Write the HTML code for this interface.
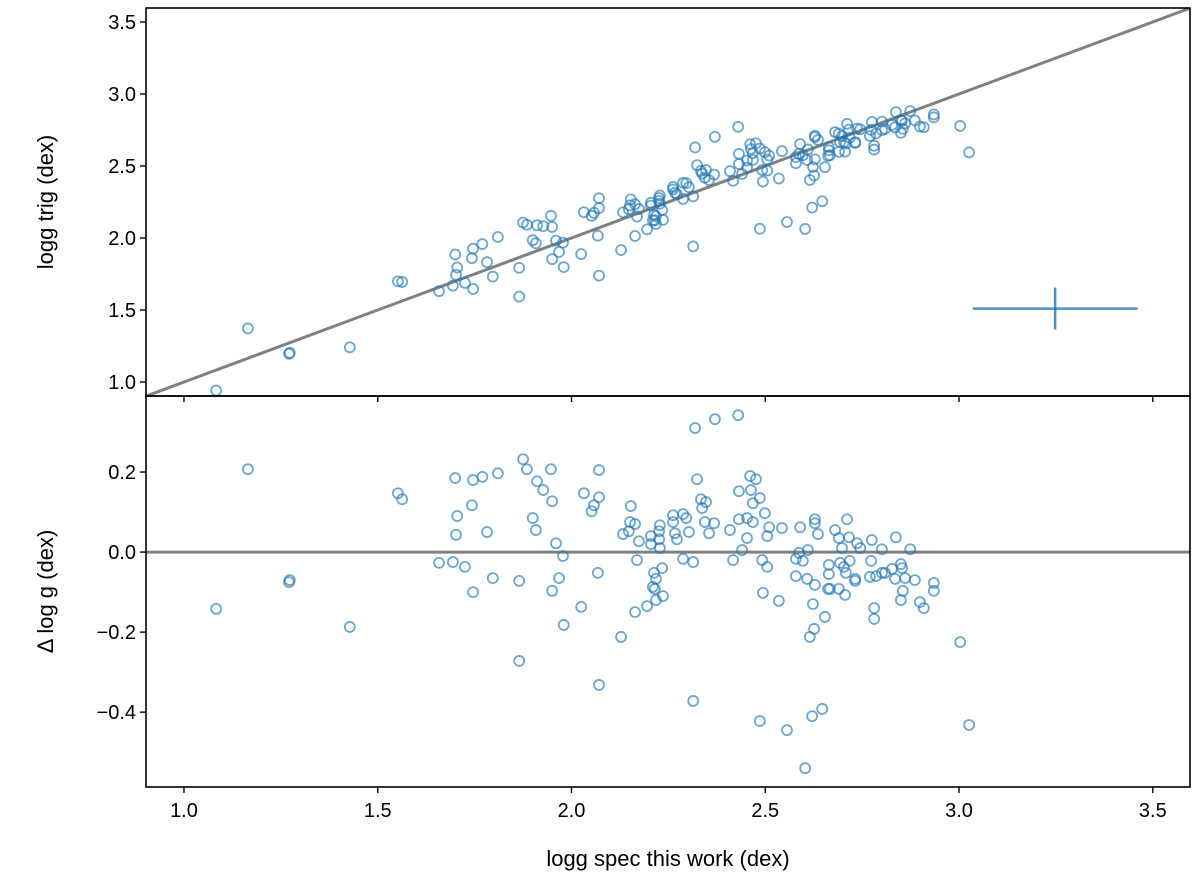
<!DOCTYPE html>
<html><head><meta charset="utf-8"><style>
body{margin:0;background:#fff}
svg text{font-family:"Liberation Sans","DejaVu Sans",sans-serif;fill:#000}
</style></head><body>
<svg id="chart" width="1200" height="882" xmlns="http://www.w3.org/2000/svg"></svg>
<script>
const specX=[1.165,1.552,1.563,1.70,1.746,1.77,1.81,1.875,1.885,1.947,1.911,1.927,1.95,2.032,1.743,1.705,1.702,1.782,1.90,1.908,1.96,1.978,1.658,1.694,1.725,1.797,1.865,1.968,1.95,1.746,1.271,1.273,1.083,1.428,2.025,1.98,1.865,
2.319,2.37,2.43,2.071,2.071,2.058,2.052,2.153,2.151,2.164,2.133,2.148,2.174,2.205,2.205,2.226,2.228,2.226,2.228,2.262,2.262,2.267,2.272,2.288,2.296,2.303,2.324,2.334,2.347,2.337,2.344,2.368,2.355,2.409,2.432,2.432,2.453,2.468,2.453,2.44,2.461,2.476,2.463,2.486,2.468,2.499,2.51,2.505,2.543,2.59,2.628,2.628,2.636,2.68,2.711,2.69,2.716,2.698,2.737,2.745,2.775,2.801,2.837,2.874,
2.169,2.068,2.234,2.213,2.218,2.21,2.215,2.236,2.218,2.195,2.164,2.128,2.071,2.288,2.314,2.417,2.492,2.505,2.494,2.535,2.314,2.486,2.556,2.579,2.587,2.61,2.597,2.579,2.608,2.628,2.623,2.654,2.626,2.615,2.621,2.647,2.603,2.664,2.664,2.662,2.667,2.69,2.706,2.693,2.703,2.718,2.708,2.732,2.732,2.773,2.77,2.786,2.801,2.809,2.827,2.85,2.853,2.835,2.861,2.886,2.855,2.85,2.781,2.781,2.899,2.909,2.935,2.935,3.003,3.026];
const deltaY=[0.207,0.147,0.132,0.185,0.18,0.188,0.197,0.232,0.207,0.207,0.177,0.155,0.127,0.147,0.117,0.09,0.043,0.05,0.085,0.055,0.022,-0.01,-0.027,-0.025,-0.037,-0.065,-0.072,-0.065,-0.097,-0.1,-0.075,-0.07,-0.142,-0.187,-0.137,-0.182,-0.272,
0.31,0.332,0.342,0.205,0.137,0.117,0.102,0.115,0.075,0.07,0.045,0.052,0.027,0.04,0.02,0.052,0.067,0.032,0.01,0.092,0.075,0.047,0.032,0.095,0.085,0.05,0.182,0.132,0.125,0.11,0.075,0.072,0.047,0.055,0.152,0.082,0.085,0.075,0.035,0.005,0.19,0.182,0.155,0.135,0.122,0.097,0.062,0.04,0.06,0.062,0.082,0.072,0.045,0.055,0.082,0.035,0.037,0.01,0.022,0.01,0.03,0.007,0.037,0.007,
-0.02,-0.052,-0.04,-0.052,-0.067,-0.087,-0.092,-0.11,-0.12,-0.135,-0.15,-0.212,-0.332,-0.017,-0.025,-0.02,-0.02,-0.037,-0.102,-0.122,-0.372,-0.422,-0.445,-0.017,-0.002,0.005,-0.022,-0.06,-0.067,-0.082,-0.13,-0.162,-0.192,-0.212,-0.41,-0.392,-0.54,-0.032,-0.055,-0.092,-0.092,-0.092,-0.107,-0.027,-0.037,-0.022,-0.052,-0.067,-0.072,-0.022,-0.062,-0.06,-0.052,-0.052,-0.042,-0.03,-0.04,-0.067,-0.065,-0.07,-0.097,-0.12,-0.14,-0.167,-0.125,-0.14,-0.077,-0.097,-0.225,-0.432];
const xTicks=[1.0,1.5,2.0,2.5,3.0,3.5];
const topTicks=[1.0,1.5,2.0,2.5,3.0,3.5];
const botTicks=[0.2,0.0,-0.2,-0.4];
const errCenter=[3.248,1.51];
const errSize=[0.213,0.146];

const L=146,R=1190,T1=8,B1=396,T2=396,B2=787;
const X0=0.902,X1=3.596,Y0=0.903,Y1=3.597,D0=-0.587,D1=0.39;
const sx=v=>L+(v-X0)/(X1-X0)*(R-L);
const sy1=v=>B1-(v-Y0)/(Y1-Y0)*(B1-T1);
const sy2=v=>B2-(v-D0)/(D1-D0)*(B2-T2);
const svg=document.getElementById('chart');
const NS='http://www.w3.org/2000/svg';
function mk(tag,a,parent){const e=document.createElementNS(NS,tag);for(const k in a)e.setAttribute(k,a[k]);(parent||svg).appendChild(e);return e;}
const fmt=v=>(v<0?'\u2212':'')+Math.abs(v).toFixed(1);

// clip paths
const defs=mk('defs',{});
const c1=mk('clipPath',{id:'c1'},defs);mk('rect',{x:L,y:T1,width:R-L,height:B1-T1},c1);
const c2=mk('clipPath',{id:'c2'},defs);mk('rect',{x:L,y:T2,width:R-L,height:B2-T2},c2);

// one-to-one line
let ln=mk('line',{x1:sx(X0),y1:sy1(X0),x2:sx(X1),y2:sy1(X1),stroke:'#808080','stroke-width':3,'clip-path':'url(#c1)'});


// zero line
let zl=mk('line',{x1:L,y1:sy2(0),x2:R,y2:sy2(0),stroke:'#808080','stroke-width':3});



const g1=mk('g',{'clip-path':'url(#c1)'});


const g2=mk('g',{'clip-path':'url(#c2)'});


specX.forEach((x,i)=>{
  const d=deltaY[i];
  const p1=mk('circle',{cx:sx(x),cy:sy1(x+d),r:5,fill:'none',stroke:'#1f77b4','stroke-opacity':0.65,'stroke-width':1.8},g1);
  
  
  const p2=mk('circle',{cx:sx(x),cy:sy2(d),r:5,fill:'none',stroke:'#1f77b4','stroke-opacity':0.65,'stroke-width':1.8},g2);
  
  
});

// error bar
const eg=mk('g',{stroke:'#1f77b4','stroke-opacity':0.8,'stroke-width':2.5});


mk('line',{x1:sx(errCenter[0]-errSize[0]),x2:sx(errCenter[0]+errSize[0]),y1:sy1(errCenter[1]),y2:sy1(errCenter[1])},eg);
mk('line',{x1:sx(errCenter[0]),x2:sx(errCenter[0]),y1:sy1(errCenter[1]-errSize[1]),y2:sy1(errCenter[1]+errSize[1])},eg);

// frames
let f1=mk('rect',{x:L,y:T1,width:R-L,height:B1-T1,fill:'none',stroke:'#000','stroke-width':1.6});


let f2=mk('rect',{x:L,y:T2,width:R-L,height:B2-T2,fill:'none',stroke:'#000','stroke-width':1.6});



// ticks
topTicks.forEach(v=>{
  const y=sy1(v);
  mk('line',{x1:L-6,x2:L,y1:y,y2:y,stroke:'#000','stroke-width':1.4});
  const t=mk('text',{x:L-10,y:y+7,'text-anchor':'end','font-size':20});
  t.textContent=fmt(v);
  
  
});
botTicks.forEach(v=>{
  const y=sy2(v);
  mk('line',{x1:L-6,x2:L,y1:y,y2:y,stroke:'#000','stroke-width':1.4});
  const t=mk('text',{x:L-10,y:y+7,'text-anchor':'end','font-size':20});
  t.textContent=fmt(v);
  
  
});
xTicks.forEach(v=>{
  const x=sx(v);
  mk('line',{x1:x,x2:x,y1:B2,y2:B2+6,stroke:'#000','stroke-width':1.4});
  mk('line',{x1:x,x2:x,y1:B1,y2:B1+6,stroke:'#000','stroke-width':1.4});
  const t=mk('text',{x:x,y:B2+30,'text-anchor':'middle','font-size':20});
  t.textContent=v.toFixed(1);
  
  
});

// axis titles
let xt=mk('text',{x:(L+R)/2,y:866,'text-anchor':'middle','font-size':22});
xt.textContent='logg spec this work (dex)';


let yt1=mk('text',{x:0,y:0,'text-anchor':'middle','font-size':22,transform:`translate(53,${(T1+B1)/2}) rotate(-90)`});
yt1.textContent='logg trig (dex)';


let yt2=mk('text',{x:0,y:0,'text-anchor':'middle','font-size':22,transform:`translate(53,${(T2+B2)/2}) rotate(-90)`});
yt2.textContent='\u0394 log g (dex)';


</script>
</body></html>
